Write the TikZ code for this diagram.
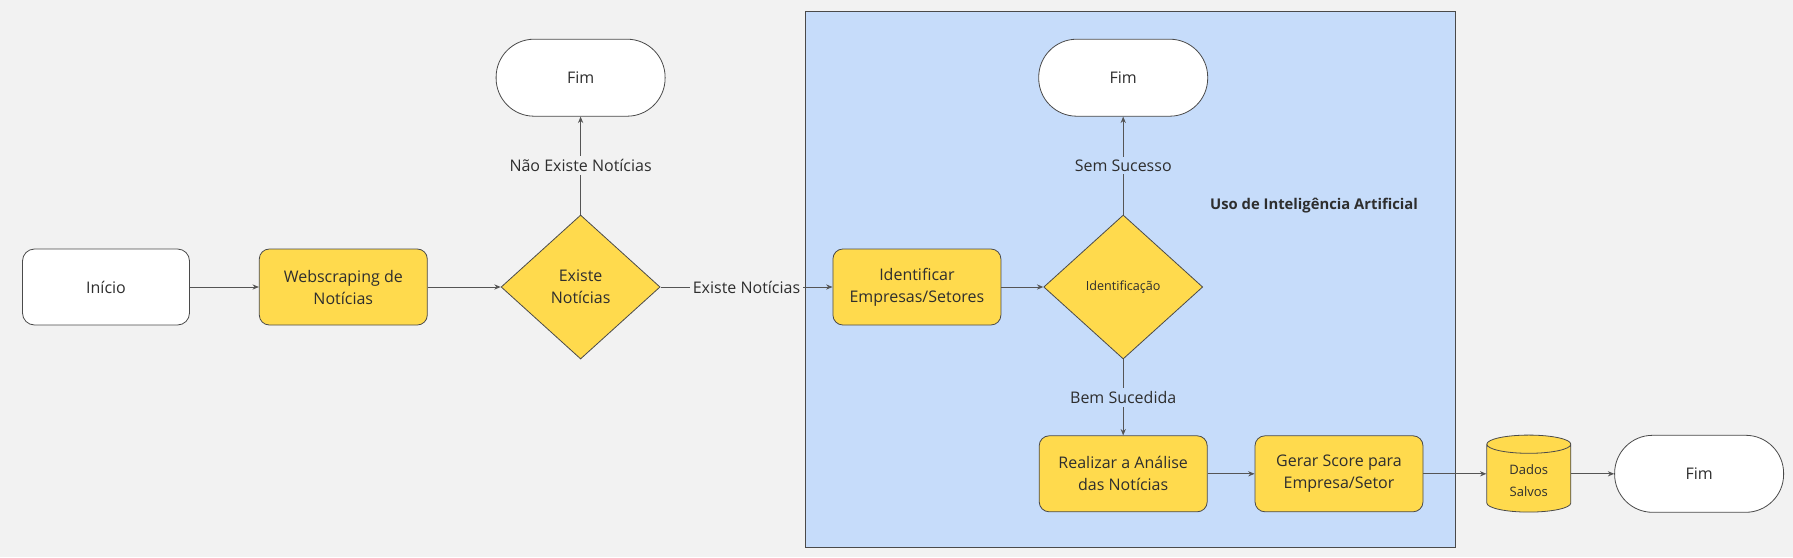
\documentclass[tikz,border=0pt]{standalone}
\usepackage{fontspec}
\setmainfont{Open Sans}
\usetikzlibrary{positioning,shapes.geometric,arrows.meta}
\definecolor{bgcinza}{HTML}{F2F2F2}
\definecolor{amarelo}{HTML}{FFDA4D}
\definecolor{azulia}{HTML}{C6DCFA}
\definecolor{borda}{HTML}{4A4A4A}
\definecolor{linha}{HTML}{555555}
\definecolor{texto}{HTML}{2E2E2E}

\begin{document}
\begin{tikzpicture}[
    proc/.style = {draw=borda, fill=amarelo, rounded corners=5pt, minimum width=84pt, minimum height=38pt, align=center, font=\fontsize{8}{11}\selectfont, text=texto},
    term/.style = {draw=borda, fill=white, rounded corners=19pt, minimum width=84.5pt, minimum height=38.5pt, font=\fontsize{8}{11}\selectfont, text=texto},
    decisao/.style = {draw=borda, fill=amarelo, diamond, minimum width=79.5pt, minimum height=72pt, inner sep=0pt, align=center, font=\fontsize{8}{11}\selectfont, text=texto},
    banco/.style = {draw=borda, fill=amarelo, cylinder, shape border rotate=90, aspect=0.35, minimum width=42pt, minimum height=38.5pt, align=center, font=\fontsize{6.5}{11}\selectfont, text=texto},
    seta/.style = {draw=linha, line width=0.45pt, -{Stealth[length=3.2pt,width=2.6pt]}},
    rotulo/.style = {fill=bgcinza, text=texto, inner sep=1.5pt, font=\fontsize{8}{10}\selectfont}]
  % fundo e moldura da parte de IA
  \fill[bgcinza] (0,0) rectangle (896.5pt,-278.5pt);
  \useasboundingbox (0,0) rectangle (896.5pt,-278.5pt);
  \draw[draw=borda, fill=azulia] (402.5pt,-5.5pt) rectangle (727.5pt,-273.5pt);

  \node[proc, fill=white, rounded corners=6pt, minimum width=83.5pt](inicio) at (53pt,-143.5pt){Início};
  \node[proc](web)[right =34.5pt of inicio]{Webscraping de\\Notícias};
  \node[decisao](existe)[right =36.5pt of web]{Existe\\Notícias};
  \node[term](fim1)[above =49pt of existe]{Fim};
  \node[proc](ident)[right =86pt of existe]{Identificar\\Empresas/Setores};
  \node[decisao, font=\fontsize{6.3}{8}\selectfont](idt)[right =21pt of ident]{Identificação};
  \node[term](fim2)[above =49pt of idt]{Fim};
  \node[proc](analise)[below =38pt of idt]{Realizar a Análise\\das Notícias};
  \node[proc](score)[right =23.5pt of analise]{Gerar Score para\\Empresa/Setor};
  \node[banco, yshift=-3.5pt](dados)[right =31.5pt of score]{Dados\\Salvos};
  \node[term](fim3)[right =21.5pt of dados.east |- score]{Fim};
  \node[font=\bfseries\fontsize{7.4}{9}\selectfont, text=texto](ia) at (657pt,-102.7pt){Uso de Inteligência Artificial};

  \draw[seta] (inicio) -- (web);
  \draw[seta] (web) -- (existe);
  \draw[seta] (existe) -- node[rotulo]{Não Existe Notícias} (fim1);
  \draw[seta] (existe) -- node[rotulo]{Existe Notícias} (ident);
  \draw[seta] (ident) -- (idt);
  \draw[seta] (idt) -- node[rotulo, fill=azulia]{Sem Sucesso} (fim2);
  \draw[seta] (idt) -- node[rotulo, fill=azulia]{Bem Sucedida} (analise);
  \draw[seta] (analise) -- (score);
  \draw[seta] (score) -- (dados.west |- score);
  \draw[seta] (dados.east |- fim3) -- (fim3);
\end{tikzpicture}
\end{document}
